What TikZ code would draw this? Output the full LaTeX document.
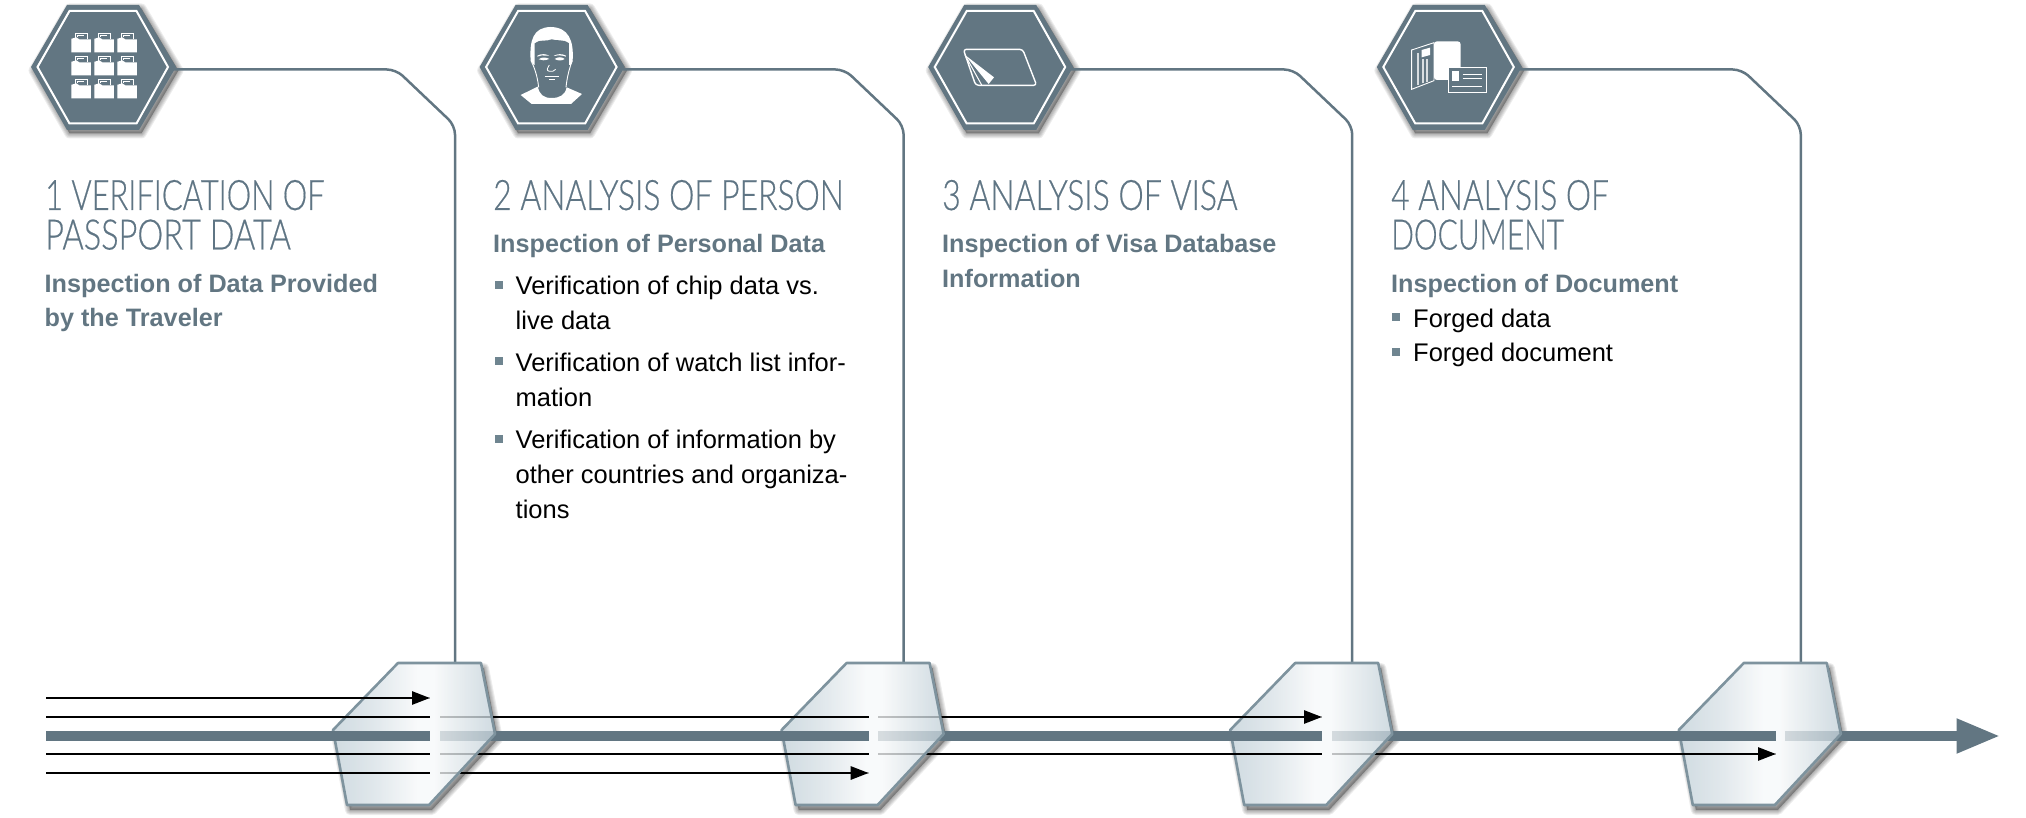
\documentclass[tikz,border=0pt]{standalone}
\usepackage{fontspec}
\usepackage{graphicx}
\setmainfont{Liberation Sans}
\newfontfamily\headfont[FakeStretch=0.755,FakeBold=0.4]{Lato Light}
\usetikzlibrary{arrows.meta}
\definecolor{steel}{HTML}{627682}
\definecolor{prismline}{HTML}{7E939E}
\definecolor{bulletc}{HTML}{6F8590}
\definecolor{headc}{HTML}{5F7584}
\definecolor{pa}{HTML}{C3D1D9}
\definecolor{pb}{HTML}{D9E2E7}
\definecolor{pc}{HTML}{F7F9FA}
\definecolor{pd}{HTML}{E6ECEF}
\pgfdeclarehorizontalshading{prismshade}{100bp}{
  color(0bp)=(pa); color(25bp)=(pa); color(38bp)=(pb); color(51bp)=(pc);
  color(56bp)=(pc); color(62bp)=(pd); color(75bp)=(pa); color(100bp)=(pa)}
\newcommand\txtlines[2]{\vtop{\baselineskip=#1pt\lineskiplimit=-100pt\lineskip=0pt\halign{##\hfil\cr #2\cr}}}
\newcommand\softshadow[1]{%
  \fill[black,fill opacity=.3] #1;
  \foreach \w in {10,8,6,4,2}{
    \draw[black,draw opacity=.07,line width=\w pt,line join=round] #1;}}
\def\hexouter{(31,67) -- (67,5) -- (139,5) -- (176,67) -- (139,130) -- (67,130) -- cycle}
\def\hexinner{(37.5,67) -- (69.5,11) -- (136.5,11) -- (168,67) -- (136.5,123.5) -- (69.5,123.5) -- cycle}
\def\prismpath{(398,663) -- (481,663) -- (495,734) -- (429,805) -- (347,805) -- (333,730) -- cycle}
\tikzset{
  x=1pt,y=-1pt,
  conn/.style={draw=steel,line width=2.5pt,rounded corners=9pt},
  thin line/.style={draw=black,line width=2.7pt},
  band/.style={draw=steel,line width=10.6pt},
  thin tip/.style={thin line,-{Triangle[length=18pt,width=13pt]}},
  headtxt/.style={anchor=base west,inner sep=0pt,text=headc,font=\headfont\fontsize{42}{40}\selectfont},
  subtxt/.style={anchor=base west,inner sep=0pt,text=steel,font=\bfseries\fontsize{25.2}{35}\selectfont},
  bodytxt/.style={anchor=base west,inner sep=0pt,text=black,font=\fontsize{25.5}{35}\selectfont},
  bulletbox/.style={fill=bulletc,inner sep=0pt,minimum size=8pt,anchor=north west}
}
\begin{document}
\begin{tikzpicture}
\useasboundingbox (0,0) rectangle (2026,818);
% named levels and gaps
\coordinate (yA) at (0,698);
\coordinate (yB) at (0,717);
\coordinate (yC) at (0,736);
\coordinate (yD) at (0,754);
\coordinate (yE) at (0,773);
\coordinate (start) at (46,0);
\coordinate (gapL0) at (430,0);     \coordinate (gapR0) at (440,0);
\coordinate (gapL1) at (868.7,0);   \coordinate (gapR1) at (878,0);
\coordinate (gapL2) at (1322,0);    \coordinate (gapR2) at (1332,0);
\coordinate (gapL3) at (1776,0);    \coordinate (gapR3) at (1785,0);
\coordinate (tipEnd) at (2000.5,736);
% hexagon badges and connectors
\foreach \i [evaluate=\i as \xs using \i*448.6] in {0,1,2,3}{
  \begin{scope}[shift={(\xs,0)}]
    \coordinate (hexR\i) at (174,69.5);
    \coordinate (prismT\i) at (455,663);
    \coordinate (prismW\i) at (331,0);
    \softshadow{[shift={(2.5,3.5)}] \hexouter}
    \fill[steel] \hexouter;
    \draw[white,line width=2pt,line join=miter] \hexinner;
  \end{scope}
  \draw[conn] (hexR\i) -- ++(222,0) -- ++(59,56) -- (prismT\i);
}
% prism shadows and white under-layer
\foreach \i [evaluate=\i as \xs using \i*448.6] in {0,1,2,3}{
  \begin{scope}[shift={(\xs,0)}]
    \softshadow{[shift={(3,5)}] \prismpath}
    \fill[white] \prismpath;
  \end{scope}
}
% full flows beneath the prisms
\draw[thin line] (start |- yA) -- (gapL0 |- yA);
\draw[thin line] (start |- yB) -- (gapL0 |- yB);
\draw[thin line] (gapR0 |- yB) -- (gapL1 |- yB);
\draw[thin line] (gapR1 |- yB) -- (gapL2 |- yB);
\draw[band] (start |- yC) -- (gapL0 |- yC);
\draw[band] (gapR0 |- yC) -- (gapL1 |- yC);
\draw[band] (gapR1 |- yC) -- (gapL2 |- yC);
\draw[band] (gapR2 |- yC) -- (gapL3 |- yC);
\draw[band,-{Triangle[length=44pt,width=32pt]}] (gapR3 |- yC) -- (tipEnd);
\draw[thin line] (start |- yD) -- (gapL0 |- yD);
\draw[thin line] (gapR0 |- yD) -- (gapL1 |- yD);
\draw[thin line] (gapR1 |- yD) -- (gapL2 |- yD);
\draw[thin line] (gapR2 |- yD) -- (gapL3 |- yD);
\draw[thin line] (start |- yE) -- (gapL0 |- yE);
\draw[thin line] (gapR0 |- yE) -- (gapL1 |- yE);
% translucent prisms
\foreach \i [evaluate=\i as \xs using \i*448.6] in {0,1,2,3}{
  \begin{scope}[shift={(\xs,0)}]
    \shade[shading=prismshade,fill opacity=.78] \prismpath;
    \draw[prismline,line width=2.6pt,line join=round] \prismpath;
  \end{scope}
}
% flow parts in front of the prisms
\draw[thin tip] (prismW0 |- yA) -- (gapL0 |- yA);
\draw[thin line] (prismW0 |- yB) -- (gapL0 |- yB);
\draw[band] (prismW0 |- yC) -- (gapL0 |- yC);
\draw[thin line] (prismW0 |- yD) -- (gapL0 |- yD);
\draw[thin line] (prismW0 |- yE) -- (gapL0 |- yE);
\draw[thin line] (prismW1 |- yB) -- (gapL1 |- yB);
\draw[band] (prismW1 |- yC) -- (gapL1 |- yC);
\draw[thin line] (prismW1 |- yD) -- (gapL1 |- yD);
\draw[thin tip] (prismW1 |- yE) -- (gapL1 |- yE);
\draw[thin tip] (prismW2 |- yB) -- (gapL2 |- yB);
\draw[band] (prismW2 |- yC) -- (gapL2 |- yC);
\draw[thin line] (prismW2 |- yD) -- (gapL2 |- yD);
\draw[band] (prismW3 |- yC) -- (gapL3 |- yC);
\draw[thin tip] (prismW3 |- yD) -- (gapL3 |- yD);
% icon 1: folders
\foreach \c in {0,1,2}{\foreach \r in {0,1,2}{
  \begin{scope}[shift={(71.3+23*\c,38.3+23*\r)}]
    \draw[white,line width=.6pt] (3.5,1) -- (3.5,-4.5) -- (16,-4.5) -- (16,1);
    \draw[white,line width=.6pt] (6,-1.5) -- (6,-2.5) -- (12.5,-2.5);
    \fill[white] (0,0.5) -- (5,-1) -- (8,1) -- (19.5,1) -- (19.5,14) -- (0,14) -- cycle;
  \end{scope}
}}
% icon 2: face
\begin{scope}[shift={(460,0)},x=.3333pt,y=-.3333pt]
  \fill[white] (212,182) .. controls (208,120) and (220,82) .. (272,81)
     .. controls (325,82) and (342,120) .. (338,182) -- (332,195) -- (222,195) -- cycle;
  \fill[steel] (224,195) -- (224,130) .. controls (240,116) and (260,126) .. (275,118)
     .. controls (290,124) and (310,116) .. (327,130) -- (327,195) -- (318,235)
     .. controls (310,262) and (295,292) .. (275,293) .. controls (250,292) and (240,262) .. (236,240) -- cycle;
  \draw[white,line width=.9pt] (213,182) .. controls (222,200) and (232,225) .. (236,262);
  \draw[white,line width=.9pt] (337,182) .. controls (330,200) and (322,225) .. (318,262);
  \fill[white] (182,285) -- (233,260) .. controls (240,285) and (250,294) .. (275,294)
     .. controls (300,294) and (315,285) .. (320,262) -- (366,282) -- (333,312) -- (215,312) -- cycle;
  \fill[white] (232,167) .. controls (245,160) and (258,162) .. (268,167) -- (258,167) .. controls (250,165) and (240,166) .. (232,170) -- cycle;
  \fill[white] (282,167) .. controls (292,162) and (305,160) .. (318,167) -- (318,170) .. controls (308,166) and (295,165) .. (282,168) -- cycle;
  \fill[white] (236,178) .. controls (245,170) and (260,172) .. (268,177) .. controls (255,182) and (245,182) .. (236,178) -- cycle;
  \fill[white] (284,177) .. controls (295,170) and (305,170) .. (314,177) .. controls (305,183) and (295,183) .. (284,177) -- cycle;
  \draw[white,line width=.8pt] (268,195) .. controls (262,205) and (258,212) .. (268,214) .. controls (275,216) and (282,214) .. (287,208);
  \draw[white,line width=1pt] (254,231) -- (298,231);
  \draw[white,line width=.7pt] (268,239) -- (284,239);
\end{scope}
% icon 3: visa
\begin{scope}[shift={(910,0)},x=.3333pt,y=-.3333pt]
  \draw[white,line width=1.4pt,rounded corners=3pt,line join=round] (160,148) -- (338,148) -- (380,256) -- (197,256) -- cycle;
  \fill[white] (165,165) -- (252,232) -- (236,252) -- cycle;
  \draw[white,line width=1pt] (165,165) -- (215,255);
\end{scope}
% icon 4: document
\begin{scope}[shift={(1360,0)},x=.3333pt,y=-.3333pt]
  \fill[white,rounded corners=3pt] (222,124) -- (302,124) -- (302,240) -- (222,240) -- cycle;
  \draw[white,line width=.9pt] (155,150) -- (222,128) -- (222,242) -- (155,268) -- cycle;
  \fill[white] (185,150) -- (210,143) -- (210,165) -- (185,172) -- cycle;
  \fill[white!75!steel] (172,160) rectangle (177,255);
  \fill[white!75!steel] (186,178) rectangle (191,250);
  \fill[white!75!steel] (199,178) rectangle (204,245);
  \filldraw[fill=steel,draw=white,line width=.9pt] (265,202) rectangle (378,276);
  \fill[white] (277,212) rectangle (297,243);
  \draw[white,line width=.9pt] (308,222) -- (366,222) (308,235) -- (366,235) (277,260) -- (366,260);
\end{scope}
% texts
\node[headtxt] (h1) at (45,210) {\txtlines{39.5}{\scalebox{.973}[1]{1 VERIFICATION OF}\cr \scalebox{1.027}[1]{PASSPORT DATA}}};
\node[subtxt] (s1) at (44.5,292) {\txtlines{35}{Inspection of Data Provided\cr by the Traveler}};
\node[headtxt] (h2) at (493,210) {\txtlines{39.5}{\scalebox{1.007}[1]{2 ANALYSIS OF PERSON}}};
\node[subtxt] (s2) at (493,252.5) {\txtlines{35}{Inspection of Personal Data}};
\node[bulletbox] (b21) at (495,281) {};
\node[bodytxt] (t21) at (515.5,294.5) {\txtlines{35}{Verification of chip data vs.\cr live data}};
\node[bulletbox] (b22) at (495,357) {};
\node[bodytxt] (t22) at (515.5,371.5) {\txtlines{35}{Verification of watch list infor-\cr mation}};
\node[bulletbox] (b23) at (495,435) {};
\node[bodytxt] (t23) at (515.5,448.5) {\txtlines{35}{Verification of information by\cr other countries and organiza-\cr tions}};
\node[headtxt] (h3) at (942,210) {\txtlines{39.5}{\scalebox{1.009}[1]{3 ANALYSIS OF VISA}}};
\node[subtxt] (s3) at (942,252.5) {\txtlines{35}{Inspection of Visa Database\cr Information}};
\node[headtxt] (h4) at (1391,210) {\txtlines{39.5}{4 ANALYSIS OF\cr \scalebox{.944}[1]{DOCUMENT}}};
\node[subtxt] (s4) at (1391,292) {\txtlines{35}{Inspection of Document}};
\node[bulletbox] (b41) at (1392,313) {};
\node[bodytxt] (t41) at (1413,327) {\txtlines{34}{Forged data}};
\node[bulletbox] (b42) at (1392,347.5) {};
\node[bodytxt] (t42) at (1413,361.5) {\txtlines{34}{Forged document}};
\end{tikzpicture}
\end{document}
